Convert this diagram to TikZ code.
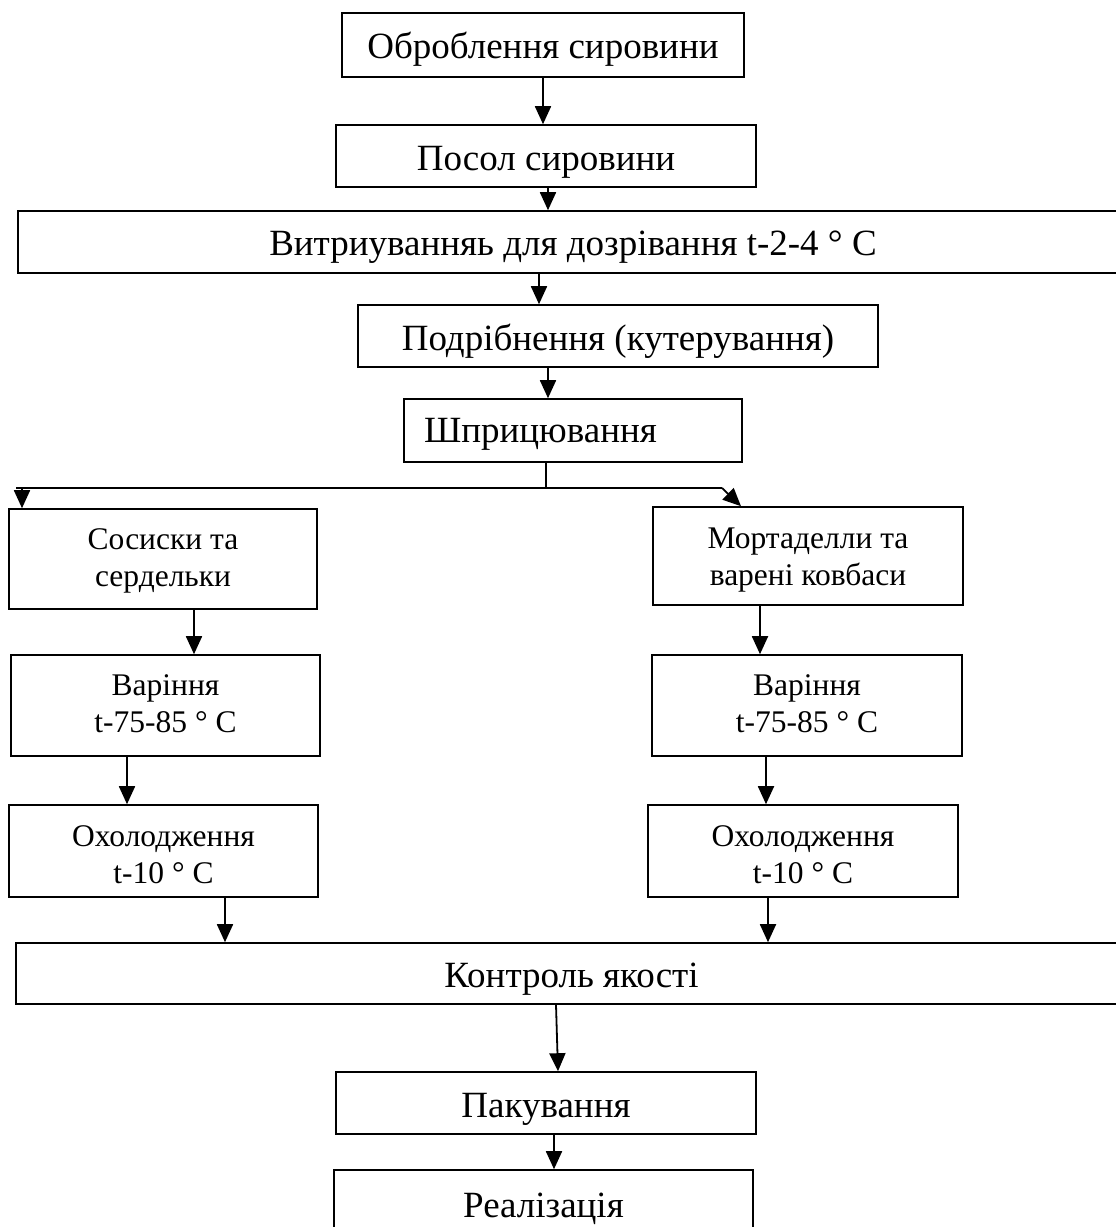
\documentclass[tikz,border=0pt]{standalone}
\usepackage{fontspec}
\setmainfont{Liberation Serif}
\usetikzlibrary{arrows.meta,calc}
\newcommand{\tline}[3]{\raisebox{-#1}[30pt][30pt]{\begin{tabular}{@{}c@{}}#2\\#3\end{tabular}}}
\newcommand{\oline}[2]{\raisebox{-#1}[20pt][20pt]{#2}}
\tikzset{
  blk/.style={draw, line width=1.6pt, rectangle, inner sep=0pt, align=center},
  big/.style={font=\fontsize{37}{44}\selectfont},
  small/.style={font=\fontsize{31.5}{37}\selectfont},
  arr/.style={line width=1.8pt, -{Triangle[length=18pt,width=16pt]}},
  ln/.style={line width=1.5pt}
}
\begin{document}
\begin{tikzpicture}[x=1pt,y=-1pt]
\useasboundingbox (0,0) rectangle (1116,1227);
\clip (0,0) rectangle (1116,1227);
\fill[white] (0,0) rectangle (1116,1227);

\node[blk,big,minimum width=402pt,minimum height=64pt] (n1) at (543,45) {\oline{13pt}{Оброблення сировини}};
\node[blk,big,minimum width=420pt,minimum height=62pt] (n2) at (546,156) {\oline{14pt}{Посол сировини}};
\node[blk,big,minimum width=1110pt,minimum height=62pt] (n3) at (573,242) {\oline{13pt}{Витриуванняь для дозрівання t-2-4 ° C}};
\node[blk,big,minimum width=520pt,minimum height=62pt] (n4) at (618,336) {\oline{14pt}{Подрібнення (кутерування)}};
\node[blk,big,minimum height=63pt,text width=298pt,align=left,inner xsep=20pt] (n5) at (573,430.5) {\oline{12pt}{Шприцювання}};
\node[blk,small,minimum width=308pt,minimum height=100pt] (n6) at (163,559) {\tline{8pt}{Сосиски та}{сердельки}};
\node[blk,small,minimum width=310pt,minimum height=98pt] (n7) at (808,556) {\tline{10pt}{Мортаделли та}{варені ковбаси}};
\node[blk,small,minimum width=309pt,minimum height=101pt] (n8) at (165.5,705.5) {\tline{7pt}{Варіння}{t-75-85 ° C}};
\node[blk,small,minimum width=310pt,minimum height=101pt] (n9) at (807,705.5) {\tline{7pt}{Варіння}{t-75-85 ° C}};
\node[blk,small,minimum width=309pt,minimum height=92pt] (n10) at (163.5,851) {\tline{13pt}{Охолодження}{t-10 ° C}};
\node[blk,small,minimum width=310pt,minimum height=92pt] (n11) at (803,851) {\tline{13pt}{Охолодження}{t-10 ° C}};
\node[blk,big,minimum width=1111pt,minimum height=61pt] (n12) at (571.5,973.5) {\oline{14pt}{Контроль якості}};
\node[blk,big,minimum width=420pt,minimum height=62pt] (n13) at (546,1103) {\oline{14pt}{Пакування}};
\node[blk,big,minimum width=419pt,minimum height=62pt] (n14) at (543.5,1201) {\oline{16pt}{Реалізація}};

\draw[arr] (543,0 |- n1.south) -- (543,0 |- n2.north);
\draw[arr] (548,0 |- n2.south) -- (548,0 |- n3.north);
\draw[arr] (539,0 |- n3.south) -- (539,0 |- n4.north);
\draw[arr] (548,0 |- n4.south) -- (548,0 |- n5.north);

\coordinate (split) at (546,488);
\coordinate (lend) at (16,488);
\coordinate (rend) at (722,488);
\draw[ln] (546,0 |- n5.south) -- (split);
\draw[ln] (lend) -- (rend);
\draw[arr] (22,0 |- lend) -- (22,0 |- n6.north);
\draw[arr] (rend) -- (741,0 |- n7.north);

\draw[arr] (194,0 |- n6.south) -- (194,0 |- n8.north);
\draw[arr] (760,0 |- n7.south) -- (760,0 |- n9.north);
\draw[arr] (127,0 |- n8.south) -- (127,0 |- n10.north);
\draw[arr] (766,0 |- n9.south) -- (766,0 |- n11.north);
\draw[arr] (225,0 |- n10.south) -- (225,0 |- n12.north);
\draw[arr] (768,0 |- n11.south) -- (768,0 |- n12.north);
\draw[arr] (556,0 |- n12.south) -- (558,0 |- n13.north);
\draw[arr] (554,0 |- n13.south) -- (554,0 |- n14.north);
\end{tikzpicture}
\end{document}
